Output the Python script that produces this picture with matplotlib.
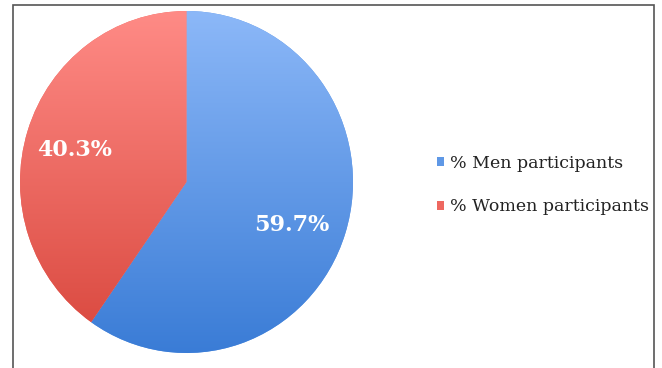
import numpy as np
import matplotlib
matplotlib.use('Agg')
import matplotlib.pyplot as plt
from matplotlib.colors import LinearSegmentedColormap
from matplotlib.patches import Rectangle

# data
labels = ['% Men participants', '% Women participants']
values = [59.7, 40.3]
top_colors = ['#8cb8f8', '#ff8b86']
bottom_colors = ['#3a7cd6', '#d8463c']
mid_colors = ['#5f98e6', '#ee6860']

fig = plt.figure(figsize=(6.62, 3.68), dpi=100)
fig.patch.set_facecolor('white')

# frame around the picture
fig.add_artist(Rectangle((12.5 / 662, -0.05), 641 / 662, 1.05 - 5 / 368,
                         transform=fig.transFigure, fill=False,
                         edgecolor='#555555', linewidth=1.2))

ax = fig.add_axes([20 / 662, 15 / 368, 333 / 662, 342 / 368])
wedges, texts = ax.pie(values, colors=mid_colors, startangle=90,
                       counterclock=False, radius=1,
                       wedgeprops=dict(linewidth=0))
ax.set_aspect('auto')
ax.set_xlim(-1, 1)
ax.set_ylim(-1, 1)
ax.axis('off')

# vertical gradient in each slice
grad = np.linspace(0, 1, 256).reshape(-1, 1)
for w, c1, c2 in zip(wedges, top_colors, bottom_colors):
    cmap = LinearSegmentedColormap.from_list('g', [c2, c1])
    im = ax.imshow(grad, cmap=cmap, extent=(-1, 1, -1, 1), origin='lower',
                   aspect='auto', zorder=2)
    im.set_clip_path(w)

# percentage labels
ax.text(-0.67, 0.19, '40.3%', color='white', fontsize=16, fontweight='bold',
        family='DejaVu Serif', ha='center', va='center', zorder=3)
ax.text(0.63, -0.25, '59.7%', color='white', fontsize=16, fontweight='bold',
        family='DejaVu Serif', ha='center', va='center', zorder=3)

# legend
handles = [Rectangle((0, 0), 1, 1, facecolor=c) for c in mid_colors]
fig.legend(handles, labels, loc='center left',
           bbox_to_anchor=(421 / 662, 1 - 185 / 368), frameon=False,
           prop={'family': 'DejaVu Serif', 'size': 12.5},
           handlelength=0.45, handleheight=0.45, handletextpad=0.3,
           labelspacing=1.55, labelcolor='#222222')

fig.savefig('out.png', dpi=100)
